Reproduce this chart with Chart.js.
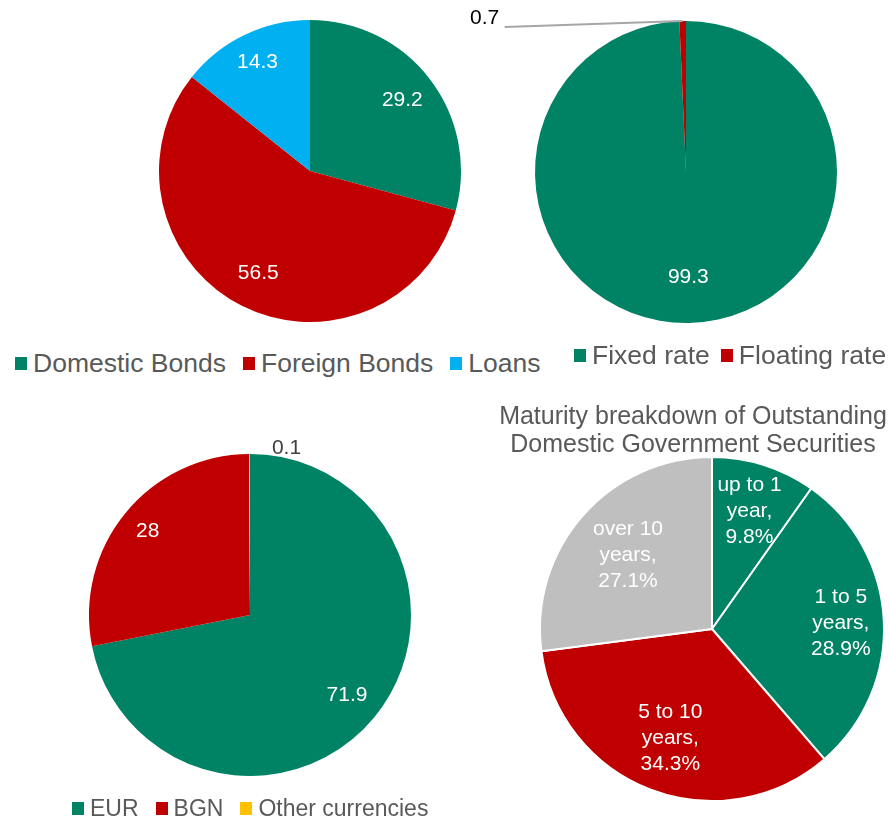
<!DOCTYPE html>
<html>
<head>
<meta charset="utf-8">
<script src="https://cdn.jsdelivr.net/npm/chart.js@4.4.1/dist/chart.umd.min.js"></script>
<style>
  body { margin: 0; background: #fff; font-family: "Liberation Sans", Arial, sans-serif; }
  #page { position: relative; width: 890px; height: 818px; overflow: hidden; }
  .box { position: absolute; }
  .legend { position: absolute; display: flex; align-items: center; white-space: nowrap; color: #595959; }
  .legend .item { display: flex; align-items: center; }
  .legend .mark { display: inline-block; width: 12px; height: 13px; margin-right: 6px; }
  .title { position: absolute; transform: translateX(-50%); text-align: center; white-space: nowrap;
           color: #595959; font-size: 25px; line-height: 28px; }
</style>
</head>
<body>
<div id="page">
  <div class="box" style="left:0;top:0;width:470px;height:340px"><canvas id="debtType"></canvas></div>
  <div class="box" style="left:460px;top:0;width:430px;height:340px"><canvas id="rateType"></canvas></div>
  <div class="box" style="left:0;top:400px;width:450px;height:400px"><canvas id="currency"></canvas></div>
  <div class="box" style="left:460px;top:390px;width:430px;height:428px"><canvas id="maturity"></canvas></div>

  <div class="legend" id="debtTypeLegend" style="left:15px;top:348px;font-size:26.5px;line-height:30px"></div>
  <div class="legend" id="rateTypeLegend" style="left:574px;top:340px;font-size:26.5px;line-height:30px"></div>
  <div class="legend" id="currencyLegend" style="left:72px;top:795px;font-size:23px;line-height:26px"></div>
  <div class="title" id="maturityTitle" style="left:693px;top:401px"></div>
</div>

<script>
const GREEN = '#008264';
const RED = '#C00000';
const BLUE = '#00B0F0';
const YELLOW = '#FFC000';
const GREY = '#BFBFBF';

// structure of government debt
const debtLabels = ['Domestic Bonds', 'Foreign Bonds', 'Loans'];
const debtValues = [29.2, 56.5, 14.3];
const debtColors = [GREEN, RED, BLUE];

// interest rate type
const rateLabels = ['Fixed rate', 'Floating rate'];
const rateValues = [99.3, 0.7];
const rateColors = [GREEN, RED];

// currency structure
const currencyLabels = ['EUR', 'BGN', 'Other currencies'];
const currencyValues = [71.9, 28, 0.1];
const currencyColors = [GREEN, RED, YELLOW];

// maturity of domestic government securities, %
const maturityTitle = ['Maturity breakdown of Outstanding', 'Domestic Government Securities'];
const maturityLabels = ['up to 1 year', '1 to 5 years', '5 to 10 years', 'over 10 years'];
const maturityValues = [9.8, 28.9, 34.3, 27.1];
const maturityColors = [GREEN, GREEN, RED, GREY];

const FONT = '"Liberation Sans", Arial, sans-serif';

// writes the value of each slice inside it, or outside with an offset for tiny slices
const sliceLabels = {
  id: 'sliceLabels',
  afterDatasetsDraw(chart, args, opts) {
    const ctx = chart.ctx;
    const arcs = chart.getDatasetMeta(0).data;
    ctx.save();
    ctx.font = opts.size + 'px ' + FONT;
    ctx.textAlign = 'center';
    ctx.textBaseline = 'middle';
    arcs.forEach((arc, i) => {
      const p = arc.getProps(['x', 'y', 'startAngle', 'endAngle', 'outerRadius'], true);
      const mid = (p.startAngle + p.endAngle) / 2;
      const lines = opts.text(i).split('\n');
      const lh = opts.lineHeight || opts.size;
      const out = (opts.outside || {})[i];
      let cx, cy;
      if (out) {
        const ax = p.x + Math.cos(mid) * p.outerRadius;
        const ay = p.y + Math.sin(mid) * p.outerRadius;
        cx = ax + out.dx;
        cy = ay + out.dy;
        if (out.line) {
          ctx.strokeStyle = '#A6A6A6';
          ctx.lineWidth = 2;
          ctx.beginPath();
          ctx.moveTo(ax + out.line[0], ay + out.line[1]);
          ctx.lineTo(ax, ay);
          ctx.stroke();
        }
        ctx.fillStyle = out.color;
      } else {
        const f = opts.factor[i];
        cx = p.x + Math.cos(mid) * p.outerRadius * f;
        cy = p.y + Math.sin(mid) * p.outerRadius * f;
        ctx.fillStyle = opts.color;
      }
      lines.forEach((ln, k) => {
        ctx.fillText(ln, cx, cy + (k - (lines.length - 1) / 2) * lh);
      });
    });
    ctx.restore();
  }
};

function makePie(id, labels, values, colors, radius, padding, labelOpts, border) {
  return new Chart(document.getElementById(id), {
    type: 'pie',
    data: {
      labels: labels,
      datasets: [{
        data: values,
        backgroundColor: colors,
        borderColor: '#FFFFFF',
        borderWidth: border || 0
      }]
    },
    options: {
      responsive: true,
      maintainAspectRatio: false,
      animation: false,
      radius: radius,
      layout: { padding: padding },
      plugins: {
        legend: { display: false },
        tooltip: { enabled: false },
        sliceLabels: labelOpts
      }
    },
    plugins: [sliceLabels]
  });
}

function makeLegend(id, labels, colors, gap) {
  const el = document.getElementById(id);
  labels.forEach((l, i) => {
    const item = document.createElement('span');
    item.className = 'item';
    if (i < labels.length - 1) item.style.marginRight = gap + 'px';
    const mark = document.createElement('span');
    mark.className = 'mark';
    mark.style.background = colors[i];
    item.appendChild(mark);
    item.appendChild(document.createTextNode(l));
    el.appendChild(item);
  });
}

makePie('debtType', debtLabels, debtValues, debtColors, 151,
  { left: 159, right: 9, top: 20, bottom: 18 },
  { size: 21, color: '#FFFFFF', factor: [0.77, 0.76, 0.8], text: i => String(debtValues[i]) });

makePie('rateType', rateLabels, rateValues, rateColors, 151,
  { left: 75, right: 53, top: 21, bottom: 17 },
  { size: 21, color: '#FFFFFF', factor: [0.7, 0.7], text: i => String(rateValues[i]),
    outside: { 1: { dx: -198, dy: -3, line: [-178, 6], color: '#000000' } } });

makePie('currency', currencyLabels, currencyValues, currencyColors, 161,
  { left: 89, right: 39, top: 54, bottom: 24 },
  { size: 21, color: '#FFFFFF', factor: [0.78, 0.82, 0.8], text: i => String(currencyValues[i]),
    outside: { 2: { dx: 37, dy: -6, color: '#404040' } } });

makePie('maturity', maturityLabels, maturityValues, maturityColors, 172,
  { left: 80, right: 6, top: 67, bottom: 17 },
  { size: 21, lineHeight: 26, color: '#FFFFFF', factor: [0.72, 0.75, 0.68, 0.65],
    text: i => maturityLabels[i].replace(/ (\S+)$/, '\n$1') + ',\n' + maturityValues[i] + '%' }, 2);

makeLegend('debtTypeLegend', debtLabels, debtColors, 17);
makeLegend('rateTypeLegend', rateLabels, rateColors, 11);
makeLegend('currencyLegend', currencyLabels, currencyColors, 17);
document.getElementById('maturityTitle').innerHTML = maturityTitle.join('<br>');
</script>
</body>
</html>
